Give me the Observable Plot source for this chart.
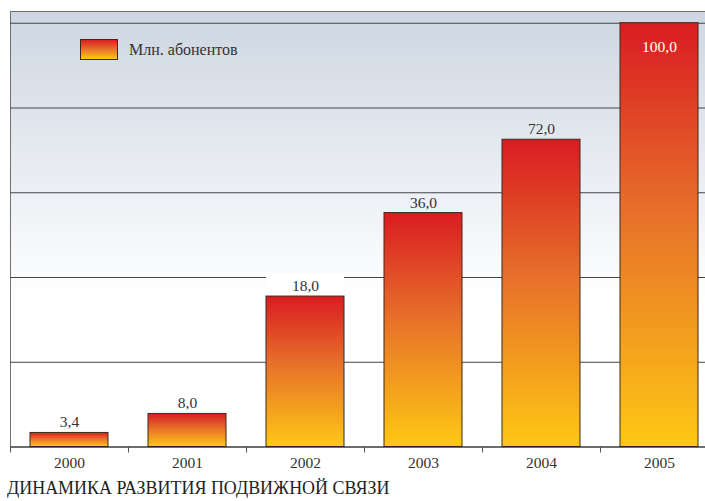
<!DOCTYPE html>
<html><head><meta charset="utf-8">
<script src="https://cdn.jsdelivr.net/npm/d3@7"></script>
<script src="https://cdn.jsdelivr.net/npm/@observablehq/plot@0.6"></script>
<style>
body{margin:0;background:#fff;overflow:hidden;font-family:'Liberation Serif','DejaVu Serif','Times New Roman',serif}
#wrap{position:relative;width:705px;height:501px;overflow:hidden}
#legend{position:absolute;left:80px;top:39px;display:flex;align-items:center;height:21px}
#legend .sw{box-sizing:border-box;width:38px;height:21px;border:1px solid #3b2a1e;background:linear-gradient(#DA1F22,#E8732A 50%,#FDC814)}
#legend span{margin-left:11px;font-size:16px;color:#333;line-height:21px}
#title{position:absolute;left:7px;top:477px;font-size:19.5px;color:#222;transform-origin:0 0;transform:scaleX(0.92);white-space:nowrap}
svg text{font-family:'Liberation Serif','DejaVu Serif','Times New Roman',serif}
</style></head><body>
<div id="wrap">
<svg width="0" height="0" style="position:absolute"><defs>
<linearGradient id="barGrad" x1="0" y1="0" x2="0" y2="1">
<stop offset="0" stop-color="#D91C22"/>
<stop offset="0.45" stop-color="#E7702A"/>
<stop offset="1" stop-color="#FEC814"/>
</linearGradient>
<linearGradient id="bgGrad" x1="0" y1="0" x2="0" y2="1">
<stop offset="0" stop-color="#CDD6E2"/>
<stop offset="0.66" stop-color="#FFFFFF"/>
<stop offset="1" stop-color="#FFFFFF"/>
</linearGradient>
</defs></svg>
<div id="chart"></div>
<div id="legend"><div class="sw"></div><span id="legtext"></span></div>
<div id="title"></div>
</div>
<script>
const years = ["2000", "2001", "2002", "2003", "2004", "2005"];
const subscribers = [3.4, 8.0, 18.0, 36.0, 72.0, 100.0];
const valueLabels = ["3,4", "8,0", "18,0", "36,0", "72,0", "100,0"];
const gridValues = [20, 40, 60, 80, 100];
const seriesName = "Млн. абонентов";
const chartTitle = "ДИНАМИКА РАЗВИТИЯ ПОДВИЖНОЙ СВЯЗИ";
const knockoutYears = ["2002"];
// the original drawing exaggerates the middle bars: value -> drawn height (% of axis)
const drawnIn = [0, 8, 18, 36, 72, 100];
const drawnOut = [0, 7.8, 35.5, 55.2, 72.5, 100];

const drawn = d3.scaleLinear().domain(drawnIn).range(drawnOut);
const data = years.map((year, i) => ({year, value: subscribers[i], label: valueLabels[i], h: drawn(subscribers[i])}));
const maxV = d3.max(subscribers);
const outside = data.filter(d => d.value < maxV);
const inside = data.filter(d => d.value === maxV);
const knock = data.filter(d => knockoutYears.includes(d.year));

const W = 705, H = 476, mTop = 11, base = 446.5, top100 = 22.7;
const xRange = [10, 718];
const step = (xRange[1] - xRange[0]) / years.length;
const serif = "'Liberation Serif', 'DejaVu Serif', 'Times New Roman', serif";

document.getElementById("legtext").textContent = seriesName;
document.getElementById("title").textContent = chartTitle;

const chart = Plot.plot({
  width: W, height: H,
  marginTop: mTop, marginBottom: H - base, marginLeft: 10, marginRight: -1,
  style: {fontFamily: serif, fontSize: "15.5px", background: "transparent", color: "#333"},
  x: {type: "band", domain: years, range: xRange, paddingInner: 0.343, paddingOuter: 0.1715, label: null, tickSize: 0, tickPadding: 9.5},
  y: {domain: [0, 100], range: [base, top100], axis: null},
  marks: [
    Plot.frame({fill: "url(#bgGrad)", stroke: "#707070"}),
    Plot.ruleY(gridValues, {stroke: "#444", strokeWidth: 1.1}),
    Plot.barY(knock, {x: "year", y1: "h", y2: "h", insetTop: -22, fill: "#ffffff"}),
    Plot.barY(data, {x: "year", y: "h", fill: "url(#barGrad)", stroke: "#3b2a1e", strokeWidth: 1}),
    Plot.ruleY([0], {stroke: "#222", strokeWidth: 1.2}),
    Plot.ruleX(years, {x: d => d, dx: -step / 2, y1: 0, y2: 0, insetBottom: -6, stroke: "#555"}),
    Plot.text(outside, {x: "year", y: "h", text: "label", dy: -5.5, lineAnchor: "bottom", fill: "#333", fontSize: 15.5, fontFamily: serif}),
    Plot.text(inside, {x: "year", y: "h", text: "label", dy: 18, lineAnchor: "top", fill: "#fff", fontSize: 15.5, fontFamily: serif})
  ]
});
document.getElementById("chart").appendChild(chart);
</script>
</body></html>
